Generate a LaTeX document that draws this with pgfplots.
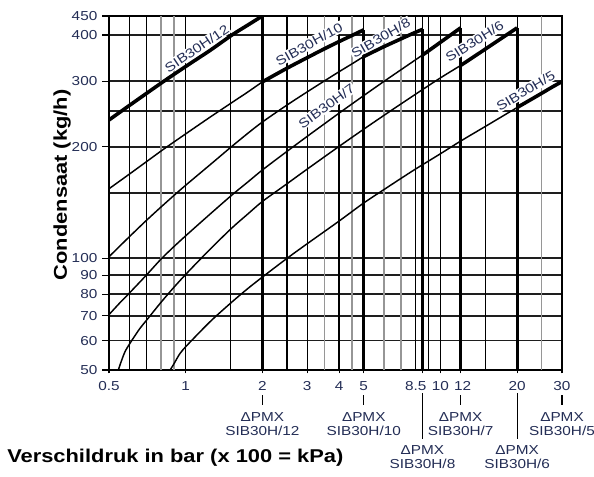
\documentclass[border=0pt]{standalone}
\usepackage{pgfplots}
\pgfplotsset{compat=1.18}
\usepackage{fontspec}
\setmainfont{Liberation Sans}[FakeStretch=1.18]
\definecolor{navy}{RGB}{35,45,85}
\definecolor{gridgray}{RGB}{150,150,150}
\definecolor{gridc}{RGB}{30,30,30}
\tikzset{
  vg/.style={black, line width=0.9pt},
  vgg/.style={gridgray, line width=0.9pt},
  vthick/.style={black, line width=2.2pt},
  thincurve/.style={black, line width=1.1pt, smooth},
  thickcurve/.style={black, line width=2.7pt, smooth},
  clab/.style={fill=white, inner sep=0.8pt, font=\fontsize{9.75}{11}\selectfont, text=navy},
  pmx/.style={align=center, anchor=north, inner sep=0pt, font=\fontsize{9.75}{10.5}\selectfont, text=navy},
}
\begin{document}
\begin{tikzpicture}
\useasboundingbox (0,0) rectangle (445.5pt,357pt);
\begin{axis}[
  at={(81.75pt,79.5pt)}, anchor=south west,
  width=339.75pt, height=265.5pt, scale only axis,
  xmode=log, ymode=log,
  xmin=0.5, xmax=30, ymin=50, ymax=450,
  xtick={0.5,1,2,3,4,5,8.5,10,12,20,30},
  xticklabels={0.5,1,2,3,4,5,{\kern-10pt 8.5},10,{12\kern-3pt},20,30},
  ytick={50,60,70,80,90,100,200,300,400,450},
  yticklabels={50,60,70,80,90,100,200,300,400,450},
  xminorticks=false,
  minor ytick={150,250},
  minor tick length=0pt,
  ymajorgrids, yminorgrids,
  major grid style={gridc, line width=1.3pt},
  minor grid style={gridc, line width=1.3pt},
  xtick pos=bottom, ytick pos=left,
  tick align=outside,
  major tick length=5.25pt,
  xtick style={/pgfplots/major tick length=2.5pt},
  tick style={black, line width=0.8pt},
  axis line style={line width=2.2pt},
  ticklabel style={font=\fontsize{9.75}{11}\selectfont, text=navy},
]
% vertical grid (black)
\addplot[vg] coordinates {(0.6,50) (0.6,450)};
\addplot[vg] coordinates {(0.7,50) (0.7,450)};
\addplot[vg] coordinates {(1,50) (1,450)};
\addplot[vg] coordinates {(1.5,50) (1.5,450)};
\addplot[vg] coordinates {(2.5,50) (2.5,450)};
\addplot[vg] coordinates {(3,50) (3,450)};
\addplot[vg] coordinates {(4,50) (4,450)};
\addplot[vg] coordinates {(5,50) (5,450)};
\addplot[vg] coordinates {(8,50) (8,450)};
\addplot[vg] coordinates {(8.5,50) (8.5,450)};
\addplot[vg] coordinates {(9,50) (9,450)};
\addplot[vg] coordinates {(10,50) (10,450)};
\addplot[vg] coordinates {(12,50) (12,450)};
\addplot[vg] coordinates {(15,50) (15,450)};
\addplot[vg] coordinates {(20,50) (20,450)};
% vertical grid (gray)
\addplot[vgg] coordinates {(0.8,50) (0.8,450)};
\addplot[vgg] coordinates {(0.9,50) (0.9,450)};
\addplot[vgg] coordinates {(3.5,50) (3.5,450)};
\addplot[vgg] coordinates {(4.5,50) (4.5,450)};
\addplot[vgg] coordinates {(6,50) (6,450)};
\addplot[vgg] coordinates {(7,50) (7,450)};
\addplot[vgg] coordinates {(25,50) (25,450)};
% thick vertical drops (Delta PMX)
\addplot[vthick] coordinates {(2,450) (2,50)};
\addplot[vthick] coordinates {(5,413) (5,50)};
\addplot[vthick] coordinates {(8.5,414) (8.5,50)};
\addplot[vthick] coordinates {(12,418) (12,50)};
\addplot[vthick] coordinates {(20,418) (20,50)};
% curve labels
\node[clab, rotate=34] at (axis cs:1.105,368) {SIB30H/12};
\node[clab, rotate=29] at (axis cs:3.05,378) {SIB30H/10};
\node[clab, rotate=30] at (axis cs:5.83,393) {SIB30H/8};
\node[clab, rotate=36] at (axis cs:3.57,257) {SIB30H/7};
\node[clab, rotate=32] at (axis cs:13.6,384) {SIB30H/6};
\node[clab, rotate=31] at (axis cs:21.6,283) {SIB30H/5};
% SIB30H/12
\addplot[thickcurve] coordinates {(0.5,236) (0.6,258) (0.7,278) (0.82,300) (1,329) (1.25,364) (1.52,400) (1.75,425) (2,450)};
% SIB30H/10
\addplot[thincurve] coordinates {(0.5,154) (0.6,168.5) (0.7,182) (0.82,197) (1,216.5) (1.25,240.5) (1.5,261.5) (1.75,280.5) (2,299)};
\addplot[thickcurve] coordinates {(2,299) (2.5,325.5) (3,347.5) (3.5,367) (4,384) (4.5,399) (5,413)};
% SIB30H/8
\addplot[thincurve] coordinates {(0.5,101) (0.55,107.7) (0.6,114.2) (0.7,126.4) (0.8,137.5) (0.9,147.8) (1,157.4) (1.25,179) (1.5,199) (1.75,217) (2,233) (2.5,259) (3,281) (3.5,300.6) (4,318.4) (4.5,334.5) (5,350)};
\addplot[thickcurve] coordinates {(5,350) (6,372) (7,390.5) (8,407) (8.5,414)};
% SIB30H/7
\addplot[thincurve] coordinates {(0.5,70.5) (0.55,75.7) (0.595,80) (0.7,90) (0.8,99.5) (0.9,107.6) (1,115) (1.25,131.8) (1.52,148.2) (1.75,160.4) (2,173) (2.5,194.3) (3,213.2) (3.5,230.3) (4,246.2) (5,274.6) (6,299.8) (7,322.3) (8,343.2) (8.5,353)};
\addplot[thickcurve] coordinates {(8.5,353) (9,363) (10,382.3) (11,400.6) (12,418)};
% SIB30H/6
\addplot[thincurve] coordinates {(0.544,50) (0.56,53) (0.58,56.3) (0.614,60) (0.66,64.6) (0.713,69) (0.8,76.1) (0.9,83.6) (1.02,91.8) (1.25,106) (1.52,120.8) (1.75,131.5) (2,142.3) (2.44,157) (3,174) (4,200.3) (5,222.9) (6,242.8) (7,260.7) (8,277.2) (10,306.5) (12,331)};
\addplot[thickcurve] coordinates {(12,331) (14,355) (16,377.4) (18,398.3) (20,418)};
% SIB30H/5
\addplot[thincurve] coordinates {(0.869,50) (0.9,52) (0.95,55.4) (1.02,58.6) (1.25,67.6) (1.52,76.3) (1.75,82.8) (2,89) (2.5,100) (3,109.5) (4,126) (5,141) (6,153.2) (7,164.2) (8,174.2) (10,191.4) (12,207) (15,226.7) (20,255)};
\addplot[thickcurve] coordinates {(20,255) (22.5,267.2) (25,278.7) (27.5,289.7) (30,299.5)};
% anchor points for the Delta PMX annotations
\coordinate (b2) at (axis cs:2,50);
\coordinate (b5) at (axis cs:5,50);
\coordinate (b85) at (axis cs:8.5,50);
\coordinate (b12) at (axis cs:12,50);
\coordinate (b20) at (axis cs:20,50);
\coordinate (b30) at (axis cs:30,50);
\end{axis}
% Delta PMX annotations
\foreach \c in {b2,b5,b12,b30}{
  \draw[black, line width=0.8pt] ([yshift=-18.75pt]\c) -- ([yshift=-26.25pt]\c);
}
\foreach \c in {b85,b20}{
  \draw[black, line width=0.8pt] ([yshift=-17.5pt]\c) -- ([yshift=-51.5pt]\c);
}
\node[pmx] at ([yshift=-31.5pt]b2) {ΔPMX\\SIB30H/12};
\node[pmx] at ([yshift=-31.5pt]b5) {ΔPMX\\SIB30H/10};
\node[pmx] at ([yshift=-31.5pt]b12) {ΔPMX\\SIB30H/7};
\node[pmx] at ([yshift=-31.5pt]b30) {ΔPMX\\SIB30H/5};
\node[pmx] at ([yshift=-56.6pt]b85) {ΔPMX\\SIB30H/8};
\node[pmx] at ([yshift=-56.6pt]b20) {ΔPMX\\SIB30H/6};
\node[anchor=west, inner sep=0pt, font=\bfseries\fontsize{13.9}{16}\selectfont] at (5.25pt,13.5pt) {Verschildruk in bar (x 100 = kPa)};
\node[rotate=90, inner sep=0pt, font=\bfseries\fontsize{13.9}{16}\selectfont] at (46.5pt,218.25pt) {Condensaat (kg/h)};
\end{tikzpicture}
\end{document}
